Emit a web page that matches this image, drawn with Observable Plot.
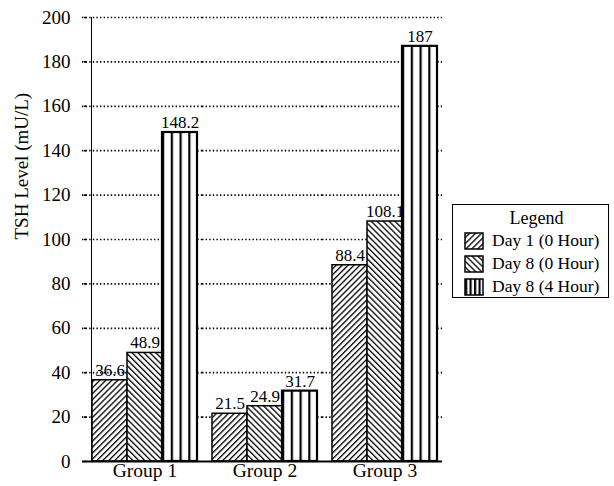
<!DOCTYPE html>
<html>
<head>
<meta charset="utf-8">
<script src="https://cdn.jsdelivr.net/npm/d3@7"></script>
<script src="https://cdn.jsdelivr.net/npm/@observablehq/plot@0.6"></script>
<style>
  html, body { margin: 0; padding: 0; background: #fff; }
  #wrap { position: relative; width: 614px; height: 486px; font-family: "Liberation Serif", "DejaVu Serif", serif; }
  #wrap svg text { font-family: "Liberation Serif", "DejaVu Serif", serif !important; fill: #000; }
  #wrap svg g[aria-label="fx-axis tick label"] text { font-size: 19.5px !important; }
  #wrap svg g[aria-label="y-axis tick"] path { stroke-dasharray: 0 5 2 20; stroke-width: 1.6; }
  #legend { position: absolute; left: 452px; top: 204px; width: 155px; height: 92px; border: 1.5px solid #000; background: #fff; color: #000; }
  #legend .title { text-align: center; font-size: 18px; margin-top: 3px; line-height: 21px; padding-left: 12px; }
  #legend .item { display: flex; align-items: center; height: 23px; font-size: 17.5px; }
  #legend svg { margin-left: 11px; margin-right: 8px; }
</style>
</head>
<body>
<div id="wrap"></div>
<script>
const groups = ["Group 1", "Group 2", "Group 3"];
const series = ["Day 1 (0 Hour)", "Day 8 (0 Hour)", "Day 8 (4 Hour)"];
const day1Hour0 = [36.6, 21.5, 88.4];
const day8Hour0 = [48.9, 24.9, 108.1];
const day8Hour4 = [148.2, 31.7, 187];
const yTicks = [0, 20, 40, 60, 80, 100, 120, 140, 160, 180, 200];
const gridValues = [20, 40, 60, 80, 100, 120, 140, 160, 180, 200];
const yTitle = "TSH Level (mU/L)";

const seriesValues = [day1Hour0, day8Hour0, day8Hour4];
const data = [];
groups.forEach((g, gi) => series.forEach((s, si) => data.push({group: g, series: s, value: seriesValues[si][gi]})));

const patternIds = {"Day 1 (0 Hour)": "pA", "Day 8 (0 Hour)": "pB", "Day 8 (4 Hour)": "pC"};

function patternDefs(prefix) {
  return `
  <pattern id="${prefix}A" patternUnits="userSpaceOnUse" width="4.2" height="4.2" patternTransform="rotate(45)">
    <rect width="4.2" height="4.2" fill="white"/>
    <line x1="0" y1="0" x2="0" y2="4.2" stroke="black" stroke-width="2.6"/>
  </pattern>
  <pattern id="${prefix}B" patternUnits="userSpaceOnUse" width="4.2" height="4.2" patternTransform="rotate(-45)">
    <rect width="4.2" height="4.2" fill="white"/>
    <line x1="0" y1="0" x2="0" y2="4.2" stroke="black" stroke-width="2.6"/>
  </pattern>
  <pattern id="${prefix}C" patternUnits="objectBoundingBox" x="0" y="0" width="0.25" height="1">
    <rect width="100" height="2000" fill="white"/>
    <rect x="0" y="0" width="2.2" height="2000" fill="black"/>
  </pattern>`;
}

const defsMark = () => {
  const d = d3.create("svg:defs");
  d.html(patternDefs("p"));
  return d.node();
};

const serif = "'Liberation Serif', 'DejaVu Serif', serif";

const chart = Plot.plot({
  width: 614,
  height: 486,
  marginLeft: 81,
  marginRight: 165,
  marginTop: 17,
  marginBottom: 25,
  style: {fontFamily: serif, fontSize: "19px", color: "#000", background: "transparent"},
  fx: {domain: groups, paddingInner: 0.107, paddingOuter: 0.0744, label: null, tickSize: 0, tickPadding: 2},
  x: {domain: series, padding: 0, axis: null},
  y: {domain: [0, 200], ticks: yTicks, tickSize: 8, tickFormat: () => "", line: true, label: null},
  marks: [
    defsMark,
    Plot.ruleY(gridValues, {stroke: "#000", strokeWidth: 1.7, strokeDasharray: "1.4,2.2", insetLeft: -9, insetRight: -4}),
    Plot.barY(data, {fx: "group", x: "series", y: "value", fill: d => `url(#${patternIds[d.series]})`, stroke: "#000", strokeWidth: d => d.series === "Day 8 (4 Hour)" ? 2.2 : 1.5}),
    Plot.text(data, {fx: "group", x: "series", y: "value", text: d => String(d.value), dy: -10, fontSize: 17, fill: "#000"}),
    Plot.ruleY([0], {stroke: "#000", strokeWidth: 2, insetLeft: -9, insetRight: -4}),
    // y tick labels and title, anchored to the first facet's frame
    Plot.text(yTicks, {fx: () => groups[0], y: d => d, text: d => String(d), frameAnchor: "left", textAnchor: "end", dx: -21, fontSize: 19, fill: "#000"}),
    Plot.text([yTitle], {fx: () => groups[0], y: () => 100, text: d => d, frameAnchor: "left", rotate: -90, dx: -70, fontSize: 19, fill: "#000"})
  ]
});

document.getElementById("wrap").appendChild(chart);

const legend = document.createElement("div");
legend.id = "legend";
legend.innerHTML = `<svg width="0" height="0" style="position:absolute"><defs>${patternDefs("l")}</defs></svg>
<div class="title">Legend</div>` +
  series.map((s, i) => `<div class="item"><svg width="20" height="18"><rect x="1" y="1" width="18" height="16" fill="url(#l${"ABC"[i]})" stroke="black" stroke-width="1.5"/></svg><span>${s}</span></div>`).join("");
document.getElementById("wrap").appendChild(legend);
</script>
</body>
</html>
